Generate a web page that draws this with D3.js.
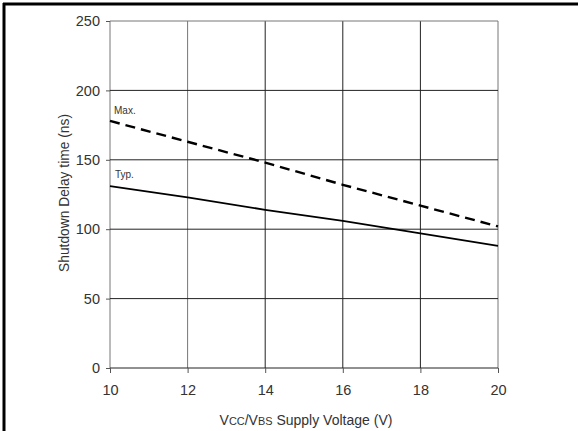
<!DOCTYPE html>
<html><head><meta charset="utf-8">
<script src="https://cdn.jsdelivr.net/npm/d3@7"></script>
<style>
body{margin:0;background:#fff;}
svg{display:block;}
text{font-family:"Liberation Sans",Arial,sans-serif;fill:#333;}
</style></head>
<body>
<svg id="c" width="578" height="431"></svg>
<script>
const voltage = [10, 12, 14, 16, 18, 20];
const maxDelay = [178, 163, 148, 132, 117, 102];
const typDelay = [131, 123, 114, 106, 97, 88];
const xTicks = [10, 12, 14, 16, 18, 20];
const yTicks = [0, 50, 100, 150, 200, 250];

const svg = d3.select("#c");
const x = d3.scaleLinear().domain([10, 20]).range([110, 498]);
const y = d3.scaleLinear().domain([0, 250]).range([368, 21]);

function fitWidth(sel, target){
  const w = sel.node().getComputedTextLength();
  const fs = parseFloat(sel.attr("font-size"));
  if (w > 0) sel.attr("font-size", fs * target / w);
}

// frame
svg.append("line").attr("x1",3).attr("x2",578).attr("y1",4).attr("y2",4).attr("stroke","#000").attr("stroke-width",3);
svg.append("line").attr("x1",4).attr("x2",4).attr("y1",3).attr("y2",431).attr("stroke","#000").attr("stroke-width",3);

// grid
const grayX = [10, 12, 20];
const g = svg.append("g");
g.selectAll(".vg").data(xTicks).join("line")
  .attr("x1",d=>x(d)).attr("x2",d=>x(d)).attr("y1",y(250)).attr("y2",y(0))
  .attr("stroke",d=> grayX.includes(d)?"#777":"#222").attr("stroke-width",1);
g.selectAll(".hg").data(yTicks).join("line")
  .attr("x1",x(10)).attr("x2",x(20)).attr("y1",d=>y(d)).attr("y2",d=>y(d))
  .attr("stroke",d=> d===250?"#777":"#222").attr("stroke-width",1);

// axes
const xAxis = d3.axisBottom(x).tickValues(xTicks).tickSize(5).tickPadding(12).tickFormat(d3.format("d"));
const xa = svg.append("g").attr("transform",`translate(0,${y(0)})`).call(xAxis);
xa.select(".domain").remove();
xa.selectAll("line").attr("stroke","#555");
xa.selectAll("text").attr("font-size",14.5).style("fill","#333");

const yAxis = d3.axisLeft(y).tickValues(yTicks).tickSize(4).tickPadding(6);
const ya = svg.append("g").attr("transform",`translate(${x(10)},0)`).call(yAxis);
ya.select(".domain").remove();
ya.selectAll("line").attr("stroke","#555");
ya.selectAll("text").attr("font-size",14.5).style("fill","#333");
svg.selectAll(".tick text").attr("font-family",null);
svg.selectAll(".tick").attr("font-family",null);
xa.attr("font-family",null); ya.attr("font-family",null);

// lines
const line = d3.line().x((d,i)=>x(voltage[i])).y(d=>y(d));
svg.append("path").datum(maxDelay).attr("d",line).attr("fill","none")
  .attr("stroke","#000").attr("stroke-width",2.4).attr("stroke-dasharray","10,6");
svg.append("path").datum(typDelay).attr("d",line).attr("fill","none")
  .attr("stroke","#000").attr("stroke-width",1.8);

// labels
svg.append("text").attr("x",114).attr("y",114).attr("font-size",10).text("Max.");
svg.append("text").attr("x",115).attr("y",178).attr("font-size",10).text("Typ.");

// axis titles
const yt = svg.append("text").attr("transform","translate(69,193) rotate(-90)").attr("text-anchor","middle")
  .attr("font-size",12).text("Shutdown Delay time (ns)");
fitWidth(yt, 158);

const xt = svg.append("text").attr("x",306).attr("y",425).attr("text-anchor","middle").attr("font-size",16);
xt.append("tspan").text("V");
xt.append("tspan").attr("font-size",12.5).text("CC");
xt.append("tspan").text("/V");
xt.append("tspan").attr("font-size",12.5).text("BS");
xt.append("tspan").text(" Supply Voltage (V)");
fitWidth(xt, 173);
xt.selectAll("tspan").filter(function(){return d3.select(this).attr("font-size");})
  .attr("font-size", parseFloat(xt.attr("font-size")) * 0.78);
</script>
</body></html>
